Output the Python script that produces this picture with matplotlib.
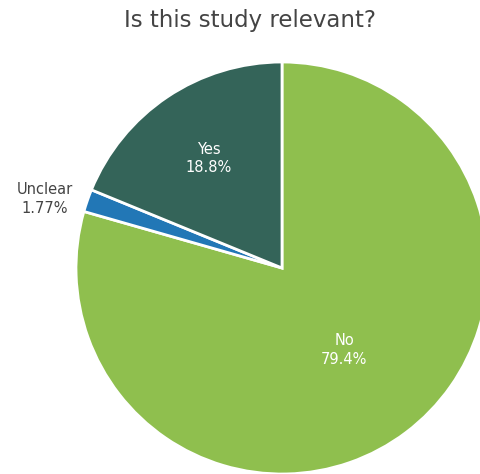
import numpy as np
import matplotlib.pyplot as plt

answers = ['No', 'Unclear', 'Yes']
shares = [79.4, 1.77, 18.8]
share_labels = ['79.4%', '1.77%', '18.8%']
colors = ['#8fbf4e', '#2277b6', '#346459']
# how far out each label sits, as a fraction of the radius
label_dist = [0.50, 1.20, 0.64]
# small nudge (px) for the outside label
label_nudge = [(0, 0), (-4, -12), (0, 0)]
label_colors = ['white', '#444444', 'white']

W, H = 480, 474
cx, cy, r = 282, H - 268, 206

fig = plt.figure(figsize=(W / 100, H / 100), dpi=100)
ax = fig.add_axes([0, 0, 1, 1])

wedges, _ = ax.pie(shares, colors=colors, startangle=90, counterclock=False,
                   center=(cx, cy), radius=r, frame=True,
                   wedgeprops=dict(edgecolor='white', linewidth=2))
ax.set_xlim(0, W)
ax.set_ylim(0, H)
ax.set_aspect('equal')
ax.axis('off')

for w, name, lab, d, (nx, ny), tc in zip(wedges, answers, share_labels,
                                         label_dist, label_nudge, label_colors):
    mid = np.deg2rad((w.theta1 + w.theta2) / 2)
    x = cx + d * r * np.cos(mid) + nx
    y = cy + d * r * np.sin(mid) + ny
    ax.text(x, y, name + '\n' + lab, ha='center', va='center',
            fontsize=10.5, color=tc, linespacing=1.3)

fig.text(0.52, 1 - 20 / H, 'Is this study relevant?', ha='center',
         va='center', fontsize=16.5, color='#444444')

fig.savefig('out.png', dpi=100)
